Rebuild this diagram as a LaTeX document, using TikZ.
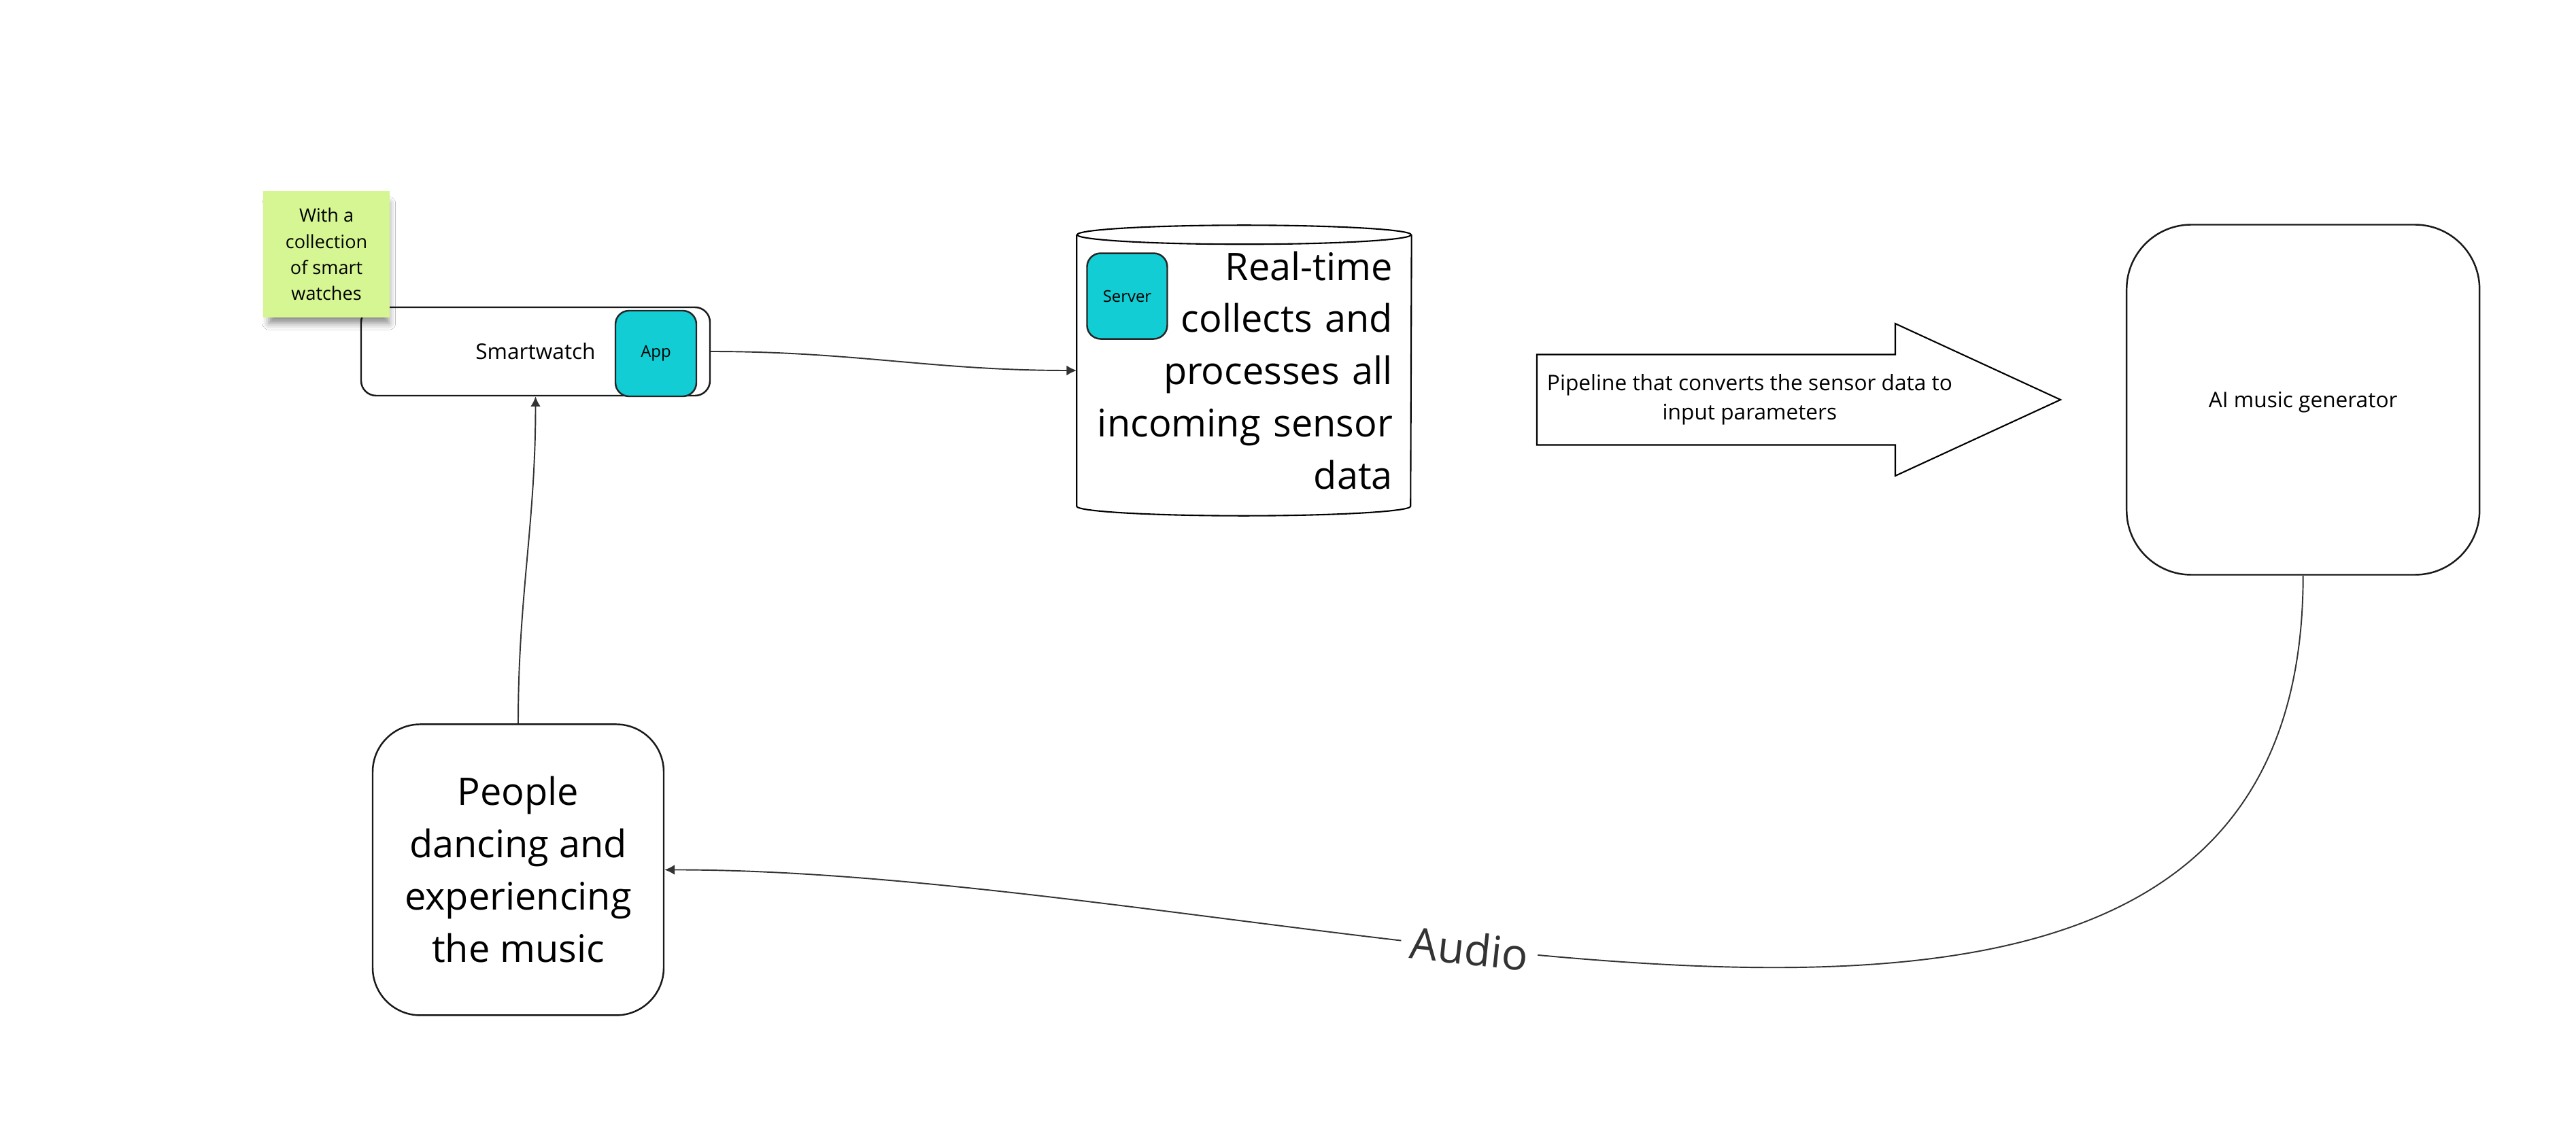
\documentclass[tikz,border=0pt]{standalone}
\usepackage{fontspec}
\setsansfont{Open Sans}
\usetikzlibrary{positioning,arrows.meta,shadows.blur}
\definecolor{appcyan}{HTML}{12CDD4}
\definecolor{stickygreen}{HTML}{D5F692}
\definecolor{linegray}{HTML}{333333}
\tikzset{
	every picture/.style={/utils/exec={\sffamily}},
	every node/.style = {inner sep=2pt, align=center},
	>={Latex[length=4.2pt,width=4.2pt]},
	bigtext/.style={font=\fontsize{15.9}{21.9}\selectfont},
	midtext/.style={font=\fontsize{9}{12.2}\selectfont},
	smalltext/.style={font=\fontsize{6.8}{9}\selectfont},
	notetext/.style={font=\fontsize{7.7}{10.9}\selectfont},
	audiotext/.style={font=\fontsize{18.2}{22}\selectfont},
	roundbox/.style={draw=black!90, line width=0.7pt, fill=white, rounded corners=#1},
	roundbox/.default=0.2cm,
	cyanbox/.style={draw=black!85, line width=0.7pt, fill=appcyan, rounded corners=0.2cm, smalltext},
	stickynote/.style={fill=stickygreen, minimum size=1.86cm, notetext,
		blur shadow={shadow xshift=0.04cm, shadow yshift=-0.14cm, shadow blur radius=0.1cm, shadow opacity=45, shadow scale=0.95}},
	connector/.style={->, draw=linegray, line width=0.55pt}
}
\begin{document}
\begin{tikzpicture}
		\path[use as bounding box, fill=white] (0,0) rectangle (37.88,-16.49);
		
		\node(watch)[roundbox=0.22cm, minimum width=5.13cm, minimum height=1.30cm, midtext] at (7.875,-5.17) {Smartwatch};
		\node(app)[cyanbox, minimum width=1.19cm, minimum height=1.26cm, left=0.2cm of watch.east, yshift=-0.03cm] {App};
		\node(sticky)[stickynote, above left=-0.17cm and -0.44cm of watch.north west] {With a\\collection\\of smart\\watches};
		
		\node(store)[minimum width=4.91cm, minimum height=3.98cm, text width=4.37cm, align=right, bigtext, right=5.38cm of watch, yshift=-0.28cm] {Real-time\\collects and\\processes all\\incoming sensor\\data};
		\draw[line width=0.6pt] (store.north west) -- (store.south west) arc[start angle=180, end angle=360, x radius=2.455cm, y radius=0.14cm] -- (store.north east);
		\draw[line width=0.6pt] (store.north) ellipse[x radius=2.455cm, y radius=0.14cm];
		\node(server)[cyanbox, minimum width=1.18cm, minimum height=1.26cm, below right=0.26cm and 0.14cm of store.north west] {Server};
		
		\node(pipe)[midtext, right=7.435cm of store.center, anchor=center, yshift=-0.43cm] {Pipeline that converts the sensor data to\\input parameters};
		\draw[line width=0.6pt, shift={(pipe.center)}] (-3.13,0.665) -- (2.14,0.665) -- (2.14,1.12) -- (4.57,0) -- (2.14,-1.12) -- (2.14,-0.665) -- (-3.13,-0.665) -- cycle;
		
		\node(ai)[roundbox=0.95cm, minimum width=5.19cm, minimum height=5.15cm, midtext, text depth=0pt, right=5.53cm of pipe.center] {AI music generator};
		\node(people)[roundbox=0.7cm, minimum width=4.28cm, minimum height=4.28cm, bigtext, below=4.81cm of watch, xshift=-0.255cm] {People\\dancing and\\experiencing\\the music};
		
		\draw[connector] (watch.east) to[out=0, in=180] (store.west);
		\draw[connector] (people.north) to[out=90, in=-90] (watch.south);
		\draw[connector] (ai.south) to[out=-90, in=0] node[pos=0.625, sloped, audiotext, fill=white, text=linegray, inner xsep=4pt, inner ysep=1pt]{Audio} (people.east);
\end{tikzpicture}
\end{document}
